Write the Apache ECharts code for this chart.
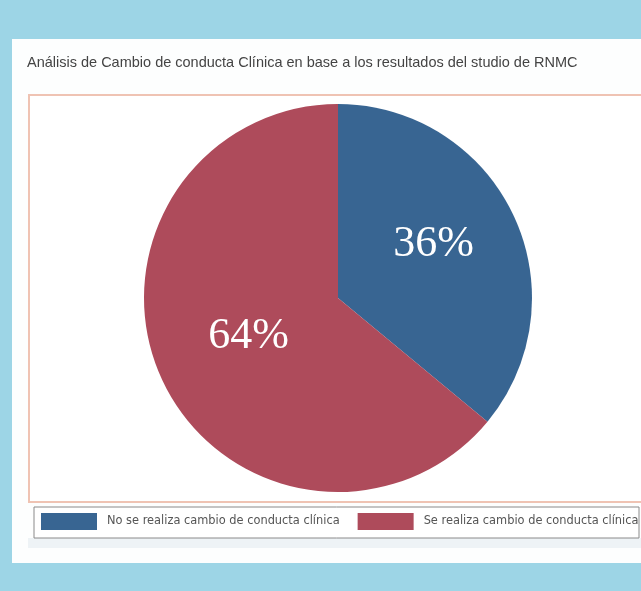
<!DOCTYPE html>
<html>
<head>
<meta charset="utf-8">
<script src="https://cdn.jsdelivr.net/npm/echarts@6/dist/echarts.min.js"></script>
<style>
  html, body { margin: 0; padding: 0; background: #9dd5e6; }
  #chart { width: 641px; height: 591px; }
</style>
</head>
<body>
<div id="chart"></div>
<script>
// data
var categories = ['No se realiza cambio de conducta clínica', 'Se realiza cambio de conducta clínica']
var percents = [36, 64]
var colors = ['#386592', '#ae4b5b']
// small nudges so the labels sit where the reference puts them
var labelShift = [[5, -11], [1, -4]]

var myChart = echarts.init(document.getElementById('chart'))

var option = {
  backgroundColor: '#9dd5e6',
  animation: false,
  title: {
    text: 'Análisis de Cambio de conducta Clínica en base a los resultados del studio de RNMC',
    left: 27,
    top: 55,
    padding: 0,
    textStyle: {
      fontFamily: 'Liberation Sans',
      fontSize: 14.5,
      fontWeight: 'normal',
      color: '#444'
    }
  },
  graphic: [
    // white panel
    { type: 'rect', z: -10, shape: { x: 12, y: 39, width: 629, height: 524 }, style: { fill: '#fdfefe' } },
    // plot frame
    { type: 'rect', z: -9, shape: { x: 29, y: 95, width: 620, height: 407 }, style: { fill: '#fff', stroke: '#efc3b3', lineWidth: 2 } },
    // shadow under legend
    { type: 'rect', z: -9, shape: { x: 28, y: 538, width: 613, height: 10 }, style: { fill: '#eef3f6' } },
    // legend box
    { type: 'rect', z: -8, shape: { x: 34, y: 507, width: 605, height: 31 }, style: { fill: '#fff', stroke: '#8a8a8a', lineWidth: 1 } }
  ],
  legend: {
    left: 41,
    top: 513,
    padding: 0,
    itemWidth: 56,
    itemHeight: 17,
    itemGap: 18,
    icon: 'rect',
    textStyle: {
      fontFamily: 'DejaVu Sans',
      fontSize: 11.4,
      color: '#555',
      padding: [0, 0, 0, 5]
    },
    data: categories
  },
  series: [
    {
      type: 'pie',
      center: [338, 298],
      radius: 194,
      startAngle: 90,
      clockwise: true,
      label: {
        show: true,
        position: 'inside',
        formatter: '{c}%',
        fontFamily: 'Liberation Serif',
        fontSize: 44,
        color: '#fff'
      },
      labelLine: { show: false },
      labelLayout: function (params) {
        return { dx: labelShift[params.dataIndex][0], dy: labelShift[params.dataIndex][1] }
      },
      emphasis: { disabled: true },
      data: categories.map(function (name, i) {
        return { name: name, value: percents[i], itemStyle: { color: colors[i] } }
      })
    }
  ]
}

myChart.setOption(option)
</script>
</body>
</html>
